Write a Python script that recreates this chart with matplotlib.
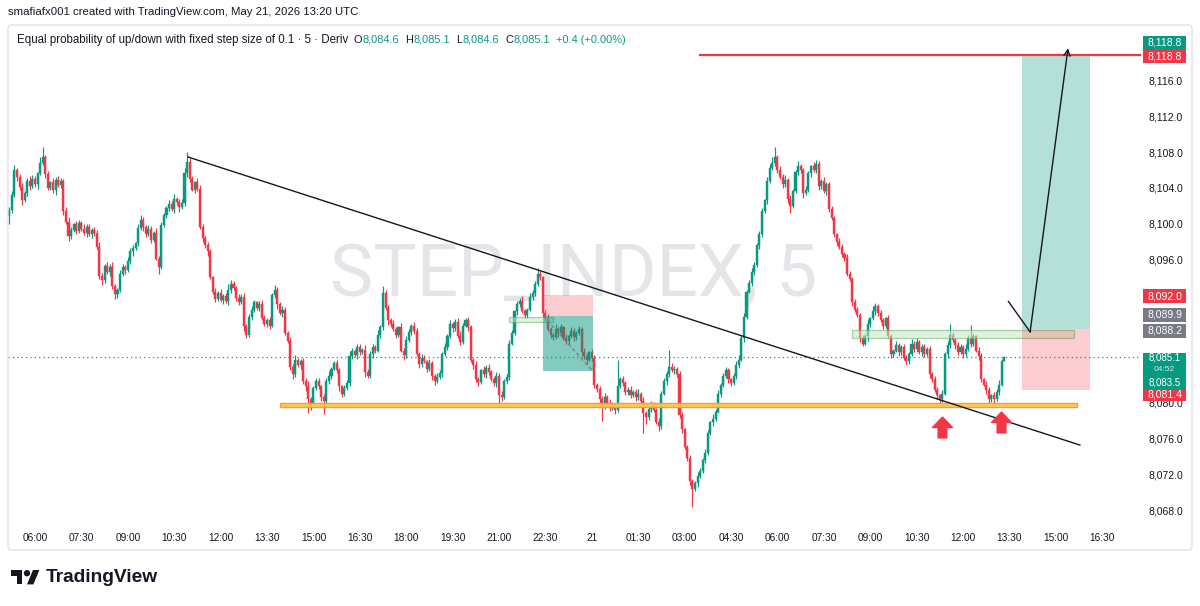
import matplotlib
matplotlib.use("Agg")
import matplotlib.pyplot as plt
import matplotlib.transforms as mtransforms
from matplotlib.patches import Rectangle, Polygon, Circle, FancyBboxPatch
from matplotlib.path import Path

plt.rcParams['font.family'] = ['Liberation Sans', 'DejaVu Sans']

# ---------------- data (5-minute candles) ----------------
first_open = 8100.8
closes = [
    8101.5, 8103.2, 8106.0, 8105.2, 8104.1, 8102.6, 8103.4, 8104.8, 8104.2, 8105.0,
    8104.4, 8105.6, 8106.8, 8107.4, 8105.5, 8104.0, 8104.6, 8103.8, 8104.9, 8104.3,
    8104.8, 8101.4, 8100.2, 8098.6, 8099.3, 8099.9, 8099.2, 8100.1, 8099.4, 8099.0,
    8099.6, 8098.8, 8099.3, 8098.9, 8097.4, 8094.2, 8093.7, 8095.3, 8094.6, 8095.2,
    8093.0, 8092.1, 8092.6, 8094.4, 8095.2, 8094.8, 8095.8, 8096.9, 8097.3, 8097.8,
    8099.5, 8100.4, 8099.6, 8098.8, 8099.4, 8098.2, 8099.0, 8096.1, 8095.2, 8099.8,
    8101.0, 8101.7, 8102.2, 8101.6, 8102.8, 8102.4, 8101.8, 8102.3, 8105.6, 8106.9,
    8105.0, 8103.8, 8104.6, 8103.9, 8099.6, 8098.4, 8097.6, 8096.9, 8094.0, 8092.4,
    8091.6, 8092.2, 8091.5, 8091.9, 8091.3, 8092.6, 8093.3, 8092.8, 8091.7, 8091.2,
    8091.8, 8088.6, 8087.5, 8089.6, 8090.4, 8091.2, 8090.6, 8091.0, 8089.5, 8088.8,
    8089.2, 8088.6, 8092.0, 8092.6, 8091.0, 8090.0, 8090.4, 8087.8, 8086.9, 8084.0,
    8083.2, 8084.8, 8084.2, 8084.6, 8082.4, 8081.8, 8080.4, 8080.0, 8081.6, 8082.4,
    8081.8, 8080.6, 8080.2, 8082.4, 8083.0, 8083.8, 8084.4, 8083.6, 8081.8, 8081.0,
    8081.6, 8082.2, 8085.2, 8085.8, 8085.3, 8086.2, 8085.6, 8085.9, 8083.4, 8083.0,
    8085.4, 8086.2, 8085.8, 8087.6, 8088.4, 8092.2, 8090.6, 8089.2, 8088.8, 8088.2,
    8087.6, 8088.4, 8085.8, 8085.3, 8087.0, 8087.9, 8088.6, 8088.0, 8085.4, 8084.3,
    8085.0, 8084.6, 8083.8, 8084.4, 8083.0, 8082.4, 8082.9, 8083.3, 8085.4, 8086.2,
    8087.4, 8088.8, 8088.3, 8089.0, 8087.4, 8086.8, 8088.6, 8089.2, 8088.4, 8084.8,
    8084.2, 8082.6, 8082.3, 8083.6, 8083.2, 8083.9, 8083.4, 8082.6, 8082.2, 8083.0,
    8080.8, 8080.6, 8082.4, 8082.9, 8086.6, 8087.8, 8090.2, 8091.0, 8091.4, 8090.2,
    8089.8, 8090.4, 8091.8, 8092.3, 8093.2, 8094.4, 8094.0, 8090.0, 8089.4, 8088.2,
    8087.6, 8087.3, 8088.2, 8087.8, 8088.4, 8087.2, 8086.9, 8087.4, 8088.0, 8087.3,
    8087.8, 8088.2, 8085.6, 8085.2, 8084.8, 8085.6, 8085.0, 8082.0, 8081.5, 8080.4,
    8079.6, 8080.6, 8080.0, 8079.4, 8079.8, 8079.2, 8081.8, 8082.6, 8082.2, 8081.2,
    8081.4, 8080.8, 8081.2, 8080.6, 8081.0, 8080.2, 8078.8, 8078.4, 8079.3, 8079.8,
    8079.2, 8077.8, 8077.4, 8081.0, 8082.4, 8083.2, 8084.0, 8083.6, 8083.8, 8083.2,
    8078.6, 8077.0, 8075.0, 8073.8, 8071.2, 8070.4, 8071.0, 8071.8, 8072.4, 8073.6,
    8074.4, 8076.6, 8077.8, 8078.2, 8079.0, 8081.0, 8082.0, 8083.0, 8083.6, 8082.6,
    8082.2, 8083.0, 8084.2, 8084.8, 8087.2, 8089.6, 8092.4, 8093.4, 8094.6, 8095.4,
    8097.6, 8098.8, 8101.4, 8102.6, 8104.8, 8106.2, 8106.8, 8107.4, 8106.0, 8105.2,
    8104.4, 8104.9, 8102.8, 8102.0, 8103.6, 8105.8, 8106.4, 8106.0, 8103.4, 8103.8,
    8105.6, 8106.4, 8106.0, 8106.7, 8104.2, 8104.8, 8103.6, 8104.4, 8101.6, 8100.6,
    8098.8, 8098.0, 8097.4, 8096.6, 8096.2, 8094.4, 8093.8, 8091.2, 8090.4, 8089.8,
    8087.2, 8086.6, 8087.4, 8088.8, 8089.4, 8090.2, 8090.8, 8090.0, 8089.2, 8088.6,
    8089.4, 8087.4, 8085.4, 8085.8, 8086.4, 8085.6, 8086.2, 8085.0, 8084.6, 8085.4,
    8086.6, 8086.0, 8086.8, 8085.6, 8086.2, 8085.4, 8086.0, 8083.2, 8082.6, 8081.4,
    8080.8, 8080.4, 8081.0, 8085.4, 8086.4, 8087.6, 8087.0, 8086.4, 8085.6, 8086.2,
    8085.4, 8086.0, 8087.2, 8086.6, 8087.4, 8085.8, 8085.2, 8082.6, 8082.0, 8081.4,
    8080.4, 8080.8, 8080.4, 8081.2, 8082.0, 8084.6, 8085.1,
]
# upper / lower wick lengths beyond the candle body, in tenths of a point
up_wick_tenths = [
    3, 4, 5, 2, 3, 4, 2, 3, 5, 4, 3, 2, 6, 12, 3, 4, 2, 5, 3, 4,
    3, 2, 4, 5, 3, 2, 4, 3, 2, 5, 3, 4, 2, 3, 4, 6, 3, 2, 4, 3,
    5, 3, 2, 4, 3, 2, 5, 4, 3, 2, 4, 6, 3, 2, 4, 3, 2, 5, 3, 4,
    2, 3, 4, 3, 5, 2, 3, 4, 6, 11, 4, 3, 2, 5, 4, 3, 2, 4, 3, 2,
    4, 3, 5, 2, 3, 6, 4, 3, 2, 4, 3, 5, 2, 3, 4, 3, 2, 4, 5, 3,
    3, 4, 2, 5, 3, 2, 4, 3, 2, 4, 3, 5, 2, 3, 4, 3, 6, 2, 3, 4,
    3, 2, 4, 3, 5, 2, 3, 4, 3, 2, 4, 3, 6, 3, 2, 4, 3, 2, 5, 3,
    4, 3, 2, 5, 3, 8, 4, 3, 2, 4, 3, 2, 5, 3, 4, 3, 2, 4, 3, 2,
    4, 3, 2, 5, 3, 2, 4, 3, 2, 5, 3, 4, 2, 3, 4, 6, 3, 2, 4, 3,
    2, 4, 3, 2, 5, 3, 4, 2, 3, 4, 3, 5, 2, 3, 4, 3, 2, 4, 3, 5,
    3, 2, 4, 3, 4, 6, 3, 2, 4, 5, 3, 2, 6, 3, 4, 2, 5, 3, 4, 3,
    2, 4, 3, 5, 3, 2, 4, 3, 2, 4, 3, 5, 2, 4, 3, 2, 30, 3, 4, 2,
    3, 4, 2, 3, 5, 2, 4, 3, 2, 4, 3, 2, 5, 3, 4, 3, 19, 4, 3, 2,
    3, 4, 2, 3, 4, 3, 2, 4, 3, 2, 4, 3, 2, 5, 3, 4, 2, 3, 4, 3,
    2, 3, 4, 5, 3, 4, 2, 3, 4, 3, 2, 4, 3, 2, 4, 5, 6, 12, 3, 4,
    3, 5, 2, 4, 3, 2, 6, 3, 2, 4, 3, 2, 5, 4, 3, 2, 4, 3, 2, 4,
    3, 2, 4, 3, 2, 4, 3, 2, 4, 3, 2, 4, 3, 5, 2, 6, 3, 2, 4, 3,
    2, 4, 3, 2, 5, 3, 2, 4, 3, 2, 5, 3, 4, 2, 3, 4, 2, 3, 2, 4,
    3, 2, 4, 3, 5, 12, 3, 2, 4, 3, 2, 5, 3, 15, 3, 2, 4, 3, 2, 4,
    3, 2, 4, 3, 5, 3, 0,
]
dn_wick_tenths = [
    8, 3, 2, 4, 3, 5, 2, 3, 4, 2, 3, 5, 2, 3, 4, 2, 3, 4, 6, 2,
    3, 4, 2, 5, 3, 2, 4, 3, 2, 3, 5, 2, 4, 3, 2, 4, 6, 3, 2, 4,
    3, 5, 4, 2, 3, 4, 2, 3, 5, 2, 3, 2, 4, 3, 2, 4, 3, 2, 8, 3,
    2, 4, 3, 2, 4, 3, 5, 2, 3, 4, 3, 2, 4, 3, 2, 4, 3, 5, 2, 3,
    4, 2, 3, 5, 2, 4, 3, 2, 4, 3, 2, 6, 3, 2, 4, 3, 2, 4, 3, 2,
    3, 4, 2, 3, 5, 2, 4, 3, 2, 4, 6, 3, 2, 4, 3, 5, 16, 8, 3, 2,
    3, 4, 15, 2, 3, 4, 2, 3, 5, 4, 3, 2, 4, 3, 2, 4, 3, 2, 5, 3,
    2, 4, 3, 2, 4, 3, 2, 5, 3, 2, 4, 3, 2, 5, 3, 2, 4, 3, 2, 4,
    3, 2, 4, 3, 5, 4, 2, 3, 4, 2, 3, 2, 4, 3, 2, 4, 3, 2, 4, 3,
    5, 3, 4, 2, 3, 4, 3, 2, 4, 5, 12, 4, 2, 3, 4, 2, 3, 4, 3, 2,
    3, 4, 2, 3, 4, 2, 3, 4, 3, 2, 4, 3, 2, 5, 3, 2, 4, 3, 2, 4,
    3, 2, 4, 3, 5, 2, 3, 4, 3, 5, 16, 3, 4, 3, 2, 5, 3, 2, 4, 3,
    4, 3, 2, 4, 3, 2, 22, 8, 3, 4, 3, 2, 6, 3, 2, 4, 3, 2, 4, 3,
    3, 4, 2, 3, 4, 21, 3, 4, 2, 3, 4, 3, 2, 4, 3, 2, 4, 3, 2, 4,
    3, 2, 4, 3, 2, 4, 3, 2, 4, 3, 2, 4, 3, 2, 4, 3, 2, 4, 3, 2,
    4, 3, 5, 8, 3, 2, 4, 3, 5, 2, 3, 4, 2, 3, 4, 3, 2, 4, 3, 2,
    3, 4, 2, 3, 4, 3, 2, 4, 3, 2, 4, 3, 2, 5, 3, 2, 4, 3, 2, 4,
    3, 2, 4, 3, 2, 4, 3, 2, 4, 3, 2, 4, 3, 2, 4, 3, 2, 4, 3, 2,
    4, 6, 3, 2, 4, 3, 2, 4, 3, 2, 4, 3, 2, 4, 3, 2, 4, 3, 2, 4,
    5, 3, 6, 2, 3, 2, 0,
]
time_labels = ['06:00', '07:30', '09:00', '10:30', '12:00', '13:30', '15:00', '16:30',
               '18:00', '19:30', '21:00', '22:30', '21', '01:30', '03:00', '04:30',
               '06:00', '07:30', '09:00', '10:30', '12:00', '13:30', '15:00', '16:30']
first_label_bar = 10          # bar index of the first label (06:00)
bars_per_label = 18           # 90 minutes of 5-minute bars
# price scale labels that are visible (8,084 / 8,088 / 8,092 are hidden behind the price tags)
price_ticks = [8068, 8072, 8076, 8080, 8096, 8100, 8104, 8108, 8112, 8116]

# drawings (bar index, price)
trend_line = [(69.35, 8107.44), (415.3, 8075.26)]
support_zone = (105.0, 414.2, 8079.47, 8080.0)
small_zone = (193.9, 210.9, 8089.0, 8089.55)
right_zone = (326.9, 413.0, 8087.27, 8088.06)
short_pos = (207.1, 226.4, 8092.0, 8089.7, 8083.5)   # x0, x1, stop, entry, target
long_pos = (392.9, 419.2, 8118.8, 8088.2, 8081.4)    # x0, x1, target, entry, stop
target_line = (267.9, 8118.8)
path_pts = [(387.6, 8091.3), (396.0, 8087.9), (410.7, 8119.6)]
arrow_bars = [362.0, 384.9]
arrow_prices = [8077.3, 8077.8]
last_price = 8085.1

UP = '#089981'
DN = '#F23645'
TXT = '#131722'
GRAY = '#787b86'

# ---------------- layout calibration ----------------
W, H = 1200, 606
L, R, T, B = 8, 1140, 25, 527
X_BAR0, DX = 9.22, 2.578
Y_REF, P_REF, PPU = 510.0, 8068.0, 8.95

fig = plt.figure(figsize=(W / 100, H / 100), dpi=100)
fig.patch.set_facecolor('white')
ax = fig.add_axes([L / W, 1 - B / H, (R - L) / W, (B - T) / H])
ax.set_facecolor('none')
ax.set_xlim((L - X_BAR0) / DX, (R - X_BAR0) / DX)
ylim = (P_REF + (Y_REF - B) / PPU, P_REF + (Y_REF - T) / PPU)
ax.set_ylim(*ylim)
ppu = (B - T) / (ylim[1] - ylim[0])
for s in ax.spines.values():
    s.set_visible(False)

px = mtransforms.Affine2D().scale(1 / W, -1 / H).translate(0, 1) + fig.transFigure

# frame
fig.patches.append(FancyBboxPatch((8, 25), 1184, 525, boxstyle='round,pad=0,rounding_size=4',
                                  transform=px, fc='none', ec='#e0e3eb', lw=1.0))

# watermark
ax.text(0.5, 0.5, 'STEP_INDEX, 5', transform=ax.transAxes, ha='center', va='center',
        fontsize=52.5, family=['Roboto', 'DejaVu Sans'], color='#e4e5e9', zorder=0)

# ---------------- candles ----------------
opens = [first_open] + closes[:-1]
idx = list(range(len(closes)))
highs = [max(o, c) + u / 10 for o, c, u in zip(opens, closes, up_wick_tenths)]
lows = [min(o, c) - d / 10 for o, c, d in zip(opens, closes, dn_wick_tenths)]
cols = [UP if c >= o else DN for o, c in zip(opens, closes)]
bottoms = [min(o, c) for o, c in zip(opens, closes)]
heights = [max(abs(c - o), 0.08) for o, c in zip(opens, closes)]
ax.vlines(idx, lows, highs, colors=cols, lw=0.85, zorder=2)
ax.bar(idx, heights, bottom=bottoms, width=0.8, color=cols, edgecolor=cols, linewidth=0.3,
       zorder=3)

# ---------------- drawings ----------------
x0, x1, p0, p1 = support_zone
ax.add_patch(Rectangle((x0, p0), x1 - x0, p1 - p0, fc='#ffc55a', ec='#f5a01e', lw=1.0,
                       alpha=0.95, zorder=4))
for (a0, a1, q0, q1) in (small_zone, right_zone):
    ax.add_patch(Rectangle((a0, q0), a1 - a0, q1 - q0, fc='#c8e6c9', ec='#5cb860', lw=0.9,
                           alpha=0.55, zorder=4))

sx0, sx1, s_stop, s_entry, s_tp = short_pos
ax.add_patch(Rectangle((sx0, s_entry), sx1 - sx0, s_stop - s_entry, fc=DN, alpha=0.25, lw=0, zorder=4))
ax.add_patch(Rectangle((sx0, s_tp), sx1 - sx0, s_entry - s_tp, fc=UP, alpha=0.5, lw=0, zorder=4))
ax.plot([sx0, sx1], [s_entry, s_tp], color=GRAY, lw=0.9, ls=(0, (3, 2)), zorder=5)

lx0, lx1, l_tp, l_entry, l_stop = long_pos
ax.add_patch(Rectangle((lx0, l_entry), lx1 - lx0, l_tp - l_entry, fc=UP, alpha=0.3, lw=0, zorder=4))
ax.add_patch(Rectangle((lx0, l_stop), lx1 - lx0, l_entry - l_stop, fc=DN, alpha=0.25, lw=0, zorder=4))

ax.plot([trend_line[0][0], trend_line[1][0]], [trend_line[0][1], trend_line[1][1]],
        color=TXT, lw=1.0, zorder=6)
ax.plot([target_line[0], ax.get_xlim()[1]], [target_line[1]] * 2, color=DN, lw=1.6, zorder=6,
        clip_on=False)
ax.axhline(last_price, color=UP, lw=0.9, ls=(0, (1, 2.5)), zorder=5)

ax.plot([path_pts[0][0], path_pts[1][0]], [path_pts[0][1], path_pts[1][1]], color=TXT, lw=1.0, zorder=7)
ax.annotate('', xy=path_pts[2], xytext=path_pts[1],
            arrowprops=dict(arrowstyle='->', color=TXT, lw=1.0, shrinkA=0, shrinkB=0,
                            mutation_scale=11), zorder=7)

arrow_marker = Path([(-0.48, 0.0), (0.0, 0.5), (0.48, 0.0), (0.21, 0.0), (0.21, -0.5),
                     (-0.21, -0.5), (-0.21, 0.0), (-0.48, 0.0)],
                    [Path.MOVETO] + [Path.LINETO] * 6 + [Path.CLOSEPOLY])
ax.plot(arrow_bars, arrow_prices, ls='none', marker=arrow_marker, ms=15, color=DN,
        mec=DN, zorder=8)

# ---------------- axes ticks ----------------
tick_idx = [first_label_bar + bars_per_label * k for k in range(len(time_labels))]
ax.set_xticks(tick_idx)
ax.set_xticklabels(time_labels)
ax.tick_params(axis='x', length=0, pad=4.5, labelsize=7.3, labelcolor=TXT)
ax.yaxis.tick_right()
ax.set_yticks(price_ticks)
ax.set_yticklabels([f'{p:,.1f}' for p in price_ticks])
ax.tick_params(axis='y', length=0, pad=6.0, labelsize=7.5, labelcolor=TXT)

# ---------------- price tags ----------------
btr = mtransforms.blended_transform_factory(ax.transAxes, ax.transData)
tag_x0 = (1143 - L) / (R - L)
tag_w = 43 / (R - L)


def tag_box(top, bottom, color):
    ax.add_patch(Rectangle((tag_x0, bottom), tag_w, top - bottom, transform=btr, fc=color,
                           ec='none', clip_on=False, zorder=20))


def tag_text(text, price, color='white', alpha=1.0, size=7.5):
    ax.text(tag_x0 + tag_w / 2, price, text, transform=btr, ha='center', va='center',
            color=color, alpha=alpha, fontsize=size, clip_on=False, zorder=21)


tags = [('8,118.8', 8118.8, UP, -12.5), ('8,118.8', 8118.8, DN, 1.0),
        ('8,092.0', 8092.0, DN, 1.0), ('8,089.9', 8089.9, GRAY, 1.0),
        ('8,088.2', 8088.2, GRAY, 1.5), ('8,081.4', 8081.4, DN, 4.5)]
for text, price, color, off in tags:
    yc = price - off / ppu
    tag_box(yc + 6.8 / ppu, yc - 6.8 / ppu, color)
    tag_text(text, yc)

tag_box(last_price + 4.4 / ppu, 8083.5 - 17.5 / ppu, UP)
tag_text('8,085.1', last_price - 0.3 / ppu, size=7.0)
tag_text('04:52', last_price - 12.3 / ppu, alpha=0.8, size=6.0)
tag_text('8,083.5', 8083.5 - 11.6 / ppu, size=7.0)

# ---------------- header texts ----------------
def ftext(x, y, s, va='center', **kw):
    return fig.text(x / W, 1 - y / H, s, va=va, ha='left', **kw)


ftext(8, 12, 'smafiafx001 created with TradingView.com, May 21, 2026 13:20 UTC', fontsize=8.2, color=TXT)

# legend line: pieces placed one after another on a common baseline; gap (px) before each piece
legend_parts = [('Equal probability of up/down with fixed step size of 0.1 · 5 · Deriv', TXT, 8.3, 0),
                ('O', TXT, 7.9, 5), ('8,084.6', UP, 7.9, 0.5),
                ('H', TXT, 7.9, 6), ('8,085.1', UP, 7.9, 0.5),
                ('L', TXT, 7.9, 6), ('8,084.6', UP, 7.9, 0.5),
                ('C', TXT, 7.9, 6), ('8,085.1', UP, 7.9, 0.5),
                ('+0.4 (+0.00%)', UP, 7.9, 6)]
renderer = fig.canvas.get_renderer()
cur_x = 17
for s, c, fs, gap in legend_parts:
    cur_x += gap
    t = ftext(cur_x, 43, s, va='baseline', fontsize=fs, color=c)
    cur_x = t.get_window_extent(renderer=renderer).x1

# ---------------- TradingView logo ----------------
def lp(u, v):
    return (11 + 0.8 * u, 570 + 0.8 * (v - 4))


fig.patches.append(Polygon([lp(0, 4), lp(14, 4), lp(14, 22), lp(7, 22), lp(7, 11), lp(0, 11)],
                           closed=True, transform=px, fc=TXT, ec='none'))
fig.patches.append(Circle(lp(20, 8), 0.8 * 4, transform=px, fc=TXT, ec='none'))
fig.patches.append(Polygon([lp(20, 22), lp(27.5, 4), lp(35.5, 4), lp(28, 22)], closed=True,
                           transform=px, fc=TXT, ec='none'))
ftext(46, 578, 'TradingView', fontsize=13.8, fontweight='bold', color=TXT)

fig.savefig('out.png', dpi=100, facecolor='white')
